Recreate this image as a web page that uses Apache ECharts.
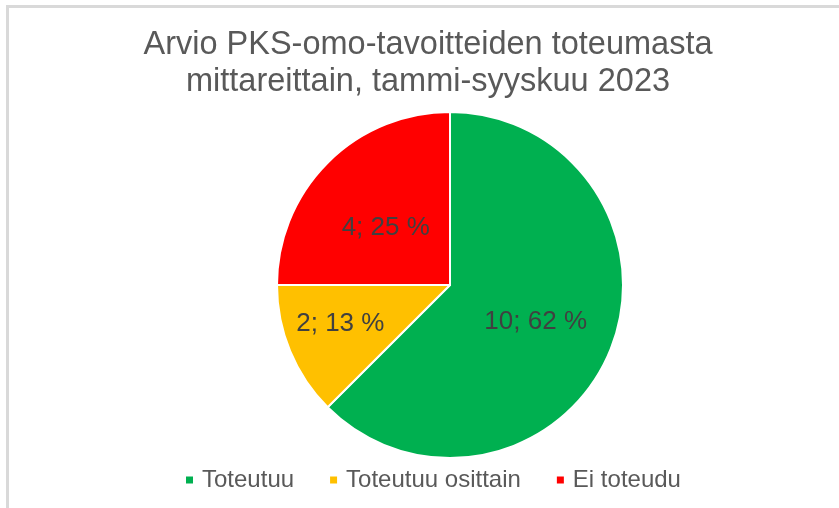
<!DOCTYPE html>
<html>
<head>
<meta charset="utf-8">
<script src="https://cdn.jsdelivr.net/npm/echarts@6/dist/echarts.min.js"></script>
<style>
html,body{margin:0;padding:0;background:#fff;}
#chart{width:839px;height:508px;}
</style>
</head>
<body>
<div id="chart"></div>
<script>
var titleText = 'Arvio PKS-omo-tavoitteiden toteumasta\nmittareittain, tammi-syyskuu 2023';
var categories = ['Toteutuu', 'Toteutuu osittain', 'Ei toteudu'];
var values = [10, 2, 4];
var percents = [62, 13, 25];
var colors = ['#00B050', '#FFC000', '#FF0000'];

var labelOffsets = [[3, 3], [-27, 5], [-1, 6]];

var chart = echarts.init(document.getElementById('chart'), null, {renderer: 'canvas'});

var data = categories.map(function (c, i) {
  return { name: c, value: values[i], itemStyle: { color: colors[i] }, label: { offset: labelOffsets[i] } };
});

chart.setOption({
  backgroundColor: '#ffffff',
  animation: false,
  title: {
    text: titleText,
    left: 428,
    top: 27,
    padding: 0,
    textAlign: 'center',
    textStyle: {
      fontFamily: 'Liberation Sans, Arial, sans-serif',
      fontSize: 32.5,
      fontWeight: 'normal',
      color: '#595959',
      lineHeight: 37
    }
  },
  legend: {
    data: categories,
    left: 179,
    top: 463,
    icon: 'rect',
    itemWidth: 9,
    itemHeight: 9,
    itemGap: 34,
    selectedMode: false,
    textStyle: {
      fontFamily: 'Liberation Sans, Arial, sans-serif',
      fontSize: 24,
      color: '#595959',
      padding: [0, 0, 0, 3],
      lineHeight: 24
    }
  },
  graphic: [
    { type: 'rect', shape: { x: 6, y: 5, width: 833, height: 3 }, style: { fill: '#d9d9d9' }, silent: true },
    { type: 'rect', shape: { x: 6, y: 5, width: 3, height: 503 }, style: { fill: '#d9d9d9' }, silent: true }
  ],
  series: [{
    type: 'pie',
    center: [450, 285],
    radius: [0, 173],
    startAngle: 90,
    clockwise: true,
    silent: true,
    itemStyle: { borderColor: '#ffffff', borderWidth: 2 },
    label: {
      show: true,
      position: 'inside',
      fontFamily: 'Liberation Sans, Arial, sans-serif',
      fontSize: 26,
      color: '#404040',
      formatter: function (p) {
        return values[p.dataIndex] + '; ' + percents[p.dataIndex] + ' %';
      }
    },
    labelLine: { show: false },
    data: data
  }]
});
</script>
</body>
</html>
